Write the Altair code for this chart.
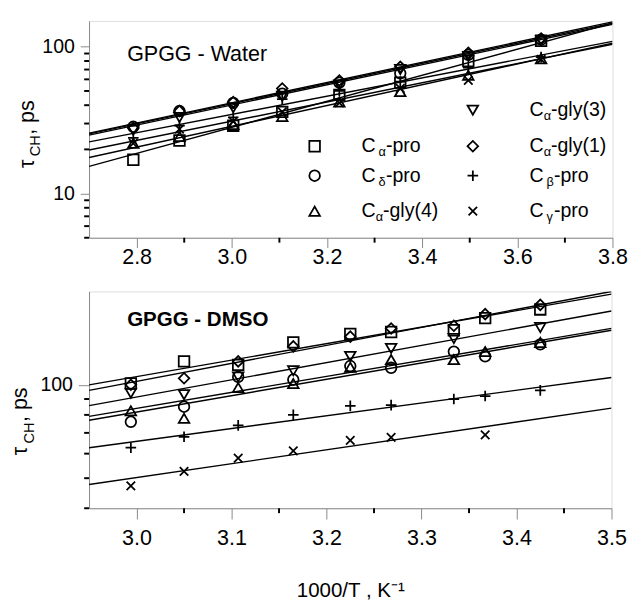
import json
import altair as alt
import pandas as pd

# ---------------- data ----------------
SERIES = ["Cα-pro", "Cδ-pro", "Cα-gly(4)", "Cα-gly(3)", "Cα-gly(1)", "Cβ-pro", "Cγ-pro"]
SHAPES = ["square", "circle", "triangle-up", "triangle-down", "diamond",
          "M-1,0L1,0M0,-1L0,1", "M-0.8,-0.8L0.8,0.8M-0.8,0.8L0.8,-0.8"]

# GPGG - Water
water_x = [2.793, 2.890, 3.003, 3.106, 3.226, 3.354, 3.497, 3.650]
water_ca_pro = [17.0, 23.0, 29.0, 36.0, 47.0, 57.0, 80.0, 110.0]
water_cd_pro = [28.5, 36.5, 41.5, 48.0, 57.0, 66.0, 88.0, 112.0]
water_ca_gly4 = [22.0, 24.5, 29.5, 33.5, 42.0, 49.5, 64.0, 83.0]
water_ca_gly3 = [27.0, 33.0, 38.5, 46.0, 55.0, 70.0, 86.0, 110.0]
water_ca_gly1 = [28.0, 36.5, 42.0, 52.0, 59.0, 73.0, 91.0, 114.0]
water_cb_pro = [24.0, 29.0, 33.0, 44.0, 50.0, 58.0, 72.0, 85.0]
water_cg_pro = [22.0, 27.5, 31.0, 36.0, 41.5, 52.0, 59.0, 82.0]
water_fit_start = [15.3, 25.5, 17.6, 25.0, 25.8, 22.5, 19.8]   # fitted line at x = 2.7
water_fit_end = [145.0, 145.0, 106.0, 142.0, 148.0, 109.0, 104.0]  # fitted line at x = 3.8

# GPGG - DMSO
dmso_x = [2.994, 3.050, 3.107, 3.165, 3.225, 3.268, 3.334, 3.367, 3.425]
dmso_ca_pro = [101, 119, 116, 137, 146, 148, 150, 164, 175]
dmso_cd_pro = [76, 85, 106, 104, 115, 113.5, 128, 123.5, 135]
dmso_ca_gly4 = [82.5, 78, 98, 101, 114, 120.6, 120.6, 128, 137]
dmso_ca_gly3 = [94, 93, 106, 111, 123.5, 131, 141, None, 153]
dmso_ca_gly1 = [100, 105, 119, 133, 143, 152, 155, 169, 181]
dmso_cb_pro = [62.7, 68, 74, 80, 85.5, 86, 90, 92, 96]
dmso_cg_pro = [47.2, 52.6, 58, 61.2, 66.2, 67.7, None, 69, None]
dmso_fit_start = [96.0, 76.9, 79.1, 85.7, 100.0, 62.7, 47.7]    # at x = 2.95
dmso_fit_end = [200.0, 150.0, 152.0, 173.0, 196.0, 105.6, 84.1]  # at x = 3.5

# axes
water_x_domain = [2.7, 3.8]
water_y_domain = [5, 150]
water_x_minor = [2.9, 3.1, 3.3, 3.5, 3.7]
water_x_labels = [2.8, 3.0, 3.2, 3.4, 3.6, 3.8]
water_y_minor = [5, 6, 7, 8, 9, 20, 30, 40, 50, 60, 70, 80, 90]
water_y_labels = [10, 100]

dmso_x_domain = [2.95, 3.5]
dmso_y_domain = [40, 200]
dmso_x_minor = [3.05, 3.15, 3.25, 3.35, 3.45]
dmso_x_labels = [3.0, 3.1, 3.2, 3.3, 3.4, 3.5]
dmso_y_minor = [40, 50, 60, 70, 80, 90]
dmso_y_labels = [100]

FONT = "Liberation Sans"
MSIZE = 118
MSTROKE = 1.8


def build_points(xs, ylists):
    rows = []
    for s, ys in zip(SERIES, ylists):
        for x, y in zip(xs, ys):
            if y is not None:
                rows.append({"series": s, "x": x, "y": y})
    return pd.DataFrame(rows)


def build_lines(xdom, starts, ends):
    rows = []
    for s, a, b in zip(SERIES, starts, ends):
        rows.append({"series": s, "x": xdom[0], "y": a})
        rows.append({"series": s, "x": xdom[1], "y": b})
    return pd.DataFrame(rows)


def panel(xs, ylists, starts, ends, xdom, ydom, xminor, xlabels, yminor, ylabels,
          width, height, xmaj, ymaj, xpad, title, title_pos, title_size, title_weight,
          ytitle, ytitle_pos, xtitle=None, legend=None):
    xaxis_kw = dict(
        values=xlabels, format=".1f", tickSize=xmaj,
        labelFlush=False, labelOverlap=False, labelFontSize=22, labelPadding=xpad,
        grid=False,
    )
    if xtitle:
        xaxis_kw.update(title=xtitle, titleFontSize=21, titleFont=FONT,
                        titleFontWeight="normal", titlePadding=32, titleColor="black")
    else:
        xaxis_kw.update(title=None)
    xaxis = alt.Axis(**xaxis_kw)
    yaxis = alt.Axis(
        values=ylabels, format="d", tickSize=ymaj,
        labelOverlap=False, labelFontSize=20, labelPadding=6, title=None, grid=False,
    )
    xs_scale = alt.Scale(domain=xdom, nice=False, zero=False)
    ys_scale = alt.Scale(type="log", domain=ydom, nice=False)
    shape = alt.Shape("series:N", scale=alt.Scale(domain=SERIES, range=SHAPES), legend=None)

    lines = alt.Chart(build_lines(xdom, starts, ends)).mark_line(
        color="black", strokeWidth=1.4, clip=True
    ).encode(
        x=alt.X("x:Q", scale=xs_scale, axis=xaxis),
        y=alt.Y("y:Q", scale=ys_scale, axis=yaxis),
        detail="series:N",
    )
    pts = alt.Chart(build_points(xs, ylists)).mark_point(
        filled=False, color="black", strokeWidth=MSTROKE, size=MSIZE, opacity=1, clip=True
    ).encode(x=alt.X("x:Q", axis=xaxis), y=alt.Y("y:Q", axis=yaxis), shape=shape)

    # minor ticks, placed through the axes' scales
    xminor_r = alt.Chart(pd.DataFrame({"v": xminor})).mark_rule(
        color="black", strokeWidth=2
    ).encode(x=alt.X("v:Q", axis=xaxis), y=alt.value(height), y2=alt.value(height + 5))
    yminor_r = alt.Chart(pd.DataFrame({"v": yminor})).mark_rule(
        color="black", strokeWidth=2
    ).encode(y=alt.Y("v:Q", axis=yaxis), x=alt.value(0), x2=alt.value(-5))

    ttl = alt.Chart(pd.DataFrame({"t": [title]})).mark_text(
        align="left", baseline="alphabetic", font=FONT, fontSize=title_size,
        fontWeight=title_weight, color="black"
    ).encode(x=alt.value(title_pos[0]), y=alt.value(title_pos[1]), text="t:N")

    # rotated y title with subscript
    x0, y0 = ytitle_pos
    yt_rows = []
    for t, dx, dy, fs in ytitle:
        yt_rows.append({"t": t, "px": x0 + dx, "py": y0 + dy, "fs": fs})
    ytt = alt.Chart(pd.DataFrame(yt_rows)).mark_text(
        align="left", baseline="alphabetic", angle=270, font=FONT, color="black"
    ).encode(
        x=alt.X("px:Q", scale=None, axis=None),
        y=alt.Y("py:Q", scale=None, axis=None),
        size=alt.Size("fs:Q", scale=None, legend=None),
        text="t:N",
    )
    layers = [lines, pts, xminor_r, yminor_r, ttl, ytt]

    if legend is not None:
        rows_y, mcols, tcols, items = legend
        lrows, trows = [], []
        for s, col, row, spaced in items:
            sub = s[1]
            rest = s[2:]
            mx, my, tx = mcols[col], rows_y[row], tcols[col]
            lrows.append({"series": s, "px": mx, "py": my})
            subx = tx + (17.5 if spaced else 14.5)
            restx = subx + 7.5
            trows.append({"t": "C", "px": tx, "py": my, "fs": 20})
            trows.append({"t": sub, "px": subx, "py": my + 6, "fs": 13})
            trows.append({"t": rest, "px": restx, "py": my, "fs": 20})
        lm = alt.Chart(pd.DataFrame(lrows)).mark_point(
            filled=False, color="black", strokeWidth=MSTROKE, size=MSIZE, opacity=1
        ).encode(
            x=alt.X("px:Q", scale=None, axis=None),
            y=alt.Y("py:Q", scale=None, axis=None),
            shape=shape,
        )
        lt = alt.Chart(pd.DataFrame(trows)).mark_text(
            align="left", baseline="middle", font=FONT, color="black"
        ).encode(
            x=alt.X("px:Q", scale=None, axis=None),
            y=alt.Y("py:Q", scale=None, axis=None),
            size=alt.Size("fs:Q", scale=None, legend=None),
            text="t:N",
        )
        layers += [lm, lt]

    return alt.layer(*layers).properties(width=width, height=height)


water_legend = (
    [91.3, 128.3, 158.5, 194.8],   # row centres
    [231, 393],                    # marker columns
    [279, 451],                    # text columns
    [("Cα-gly(3)", 1, 0, False), ("Cα-pro", 0, 1, True), ("Cδ-pro", 0, 2, True),
     ("Cα-gly(4)", 0, 3, False), ("Cα-gly(1)", 1, 1, False), ("Cβ-pro", 1, 2, True),
     ("Cγ-pro", 1, 3, True)],
)

top = panel(
    water_x,
    [water_ca_pro, water_cd_pro, water_ca_gly4, water_ca_gly3, water_ca_gly1, water_cb_pro, water_cg_pro],
    water_fit_start, water_fit_end, water_x_domain, water_y_domain,
    water_x_minor, water_x_labels, water_y_minor, water_y_labels,
    width=536, height=222, xmaj=10, ymaj=9, xpad=-1,
    title="GPGG - Water", title_pos=(39, 41), title_size=22, title_weight="normal",
    ytitle=[("τ", 0, 0, 22), ("CH", 6, -12, 15), (", ps", 0, -34, 22)],
    ytitle_pos=(-56.7, 150.6),
    legend=water_legend,
)

bottom = panel(
    dmso_x,
    [dmso_ca_pro, dmso_cd_pro, dmso_ca_gly4, dmso_ca_gly3, dmso_ca_gly1, dmso_cb_pro, dmso_cg_pro],
    dmso_fit_start, dmso_fit_end, dmso_x_domain, dmso_y_domain,
    dmso_x_minor, dmso_x_labels, dmso_y_minor, dmso_y_labels,
    width=535, height=222, xmaj=11, ymaj=11, xpad=9,
    title="GPGG - DMSO", title_pos=(39, 35), title_size=21, title_weight="bold",
    ytitle=[("τ", 0, 0, 22), ("CH", 7, -12, 15), (" , ps", 0, -34, 22)],
    ytitle_pos=(-63.7, 167.7),
    xtitle="1000/T , K⁻¹",
)

chart = alt.vconcat(top, bottom, spacing=23).properties(
    padding={"left": 0, "top": 5, "right": 5, "bottom": 5}
).configure_view(
    stroke="black", strokeWidth=2
).configure_axis(
    domainColor="black", domainWidth=2, tickColor="black", tickWidth=2,
    labelColor="black", labelFont=FONT,
).configure(background="white")

chart.save("out.html", embed_options={"renderer": "svg", "actions": False})
